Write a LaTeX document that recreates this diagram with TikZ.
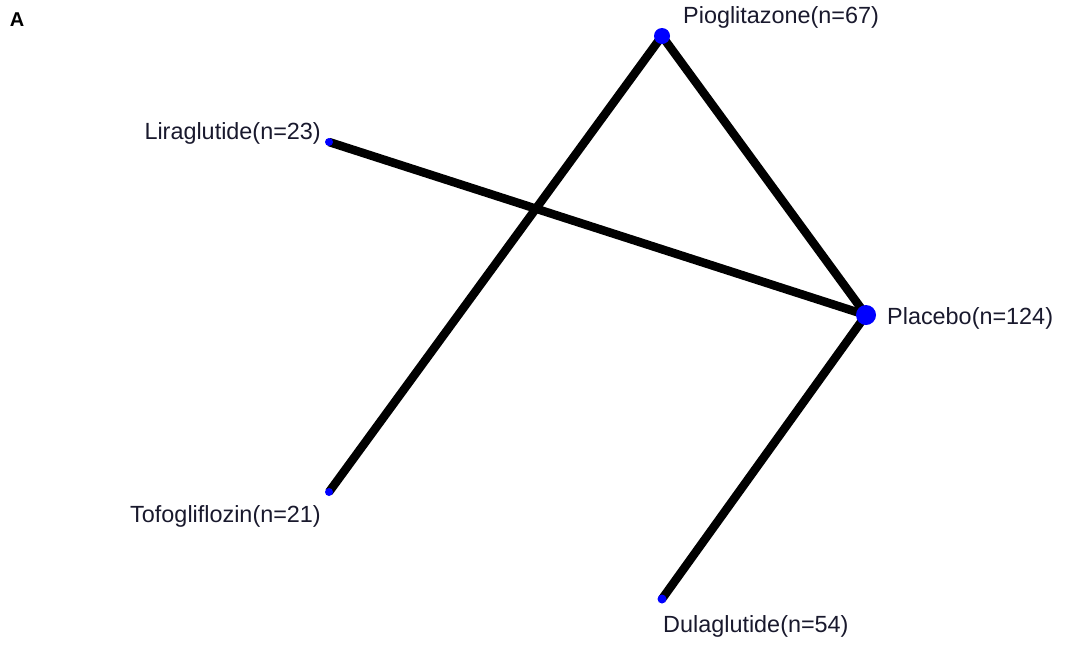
\documentclass[tikz,border=0pt]{standalone}
\usepackage{fontspec}
\setmainfont{Liberation Sans}
\usetikzlibrary{backgrounds}
\definecolor{dotblue}{RGB}{0,0,255}
\definecolor{txt}{RGB}{25,25,45}
\begin{document}
\begin{tikzpicture}[x=1pt,y=-1pt,
  dot/.style={circle,fill=dotblue,inner sep=0pt,minimum size=#1},
  edge/.style={line width=8.5pt,black},
  lbl/.style={font=\fontsize{23.4}{25}\selectfont,text=txt,inner sep=0pt}]
\useasboundingbox (0,0) rectangle (1065,649);
\node[font=\fontsize{20}{22}\selectfont\bfseries,inner sep=0pt] (A) at (17,20) {A};
\node[dot=16pt] (pio) at (662,36) {};
\node[dot=8pt] (lir) at (329,142) {};
\node[dot=20pt] (pla) at (866,315) {};
\node[dot=8pt] (tof) at (329,492) {};
\node[dot=9pt] (dul) at (662,599) {};
\begin{scope}[on background layer]
\draw[edge] (pio.center) -- (tof.center);
\draw[edge] (pio.center) -- (pla.center);
\draw[edge] (lir.center) -- (pla.center);
\draw[edge] (pla.center) -- (dul.center);
\end{scope}
\node[lbl,anchor=west] (pioL) at (683,17) {Pioglitazone(n=67)};
\node[lbl,anchor=east] (lirL) at (321,133) {Liraglutide(n=23)};
\node[lbl,anchor=west] (plaL) at (887,318) {Placebo(n=124)};
\node[lbl,anchor=east] (tofL) at (321,516) {Tofogliflozin(n=21)};
\node[lbl,anchor=west] (dulL) at (663,626) {Dulaglutide(n=54)};
\end{tikzpicture}
\end{document}
